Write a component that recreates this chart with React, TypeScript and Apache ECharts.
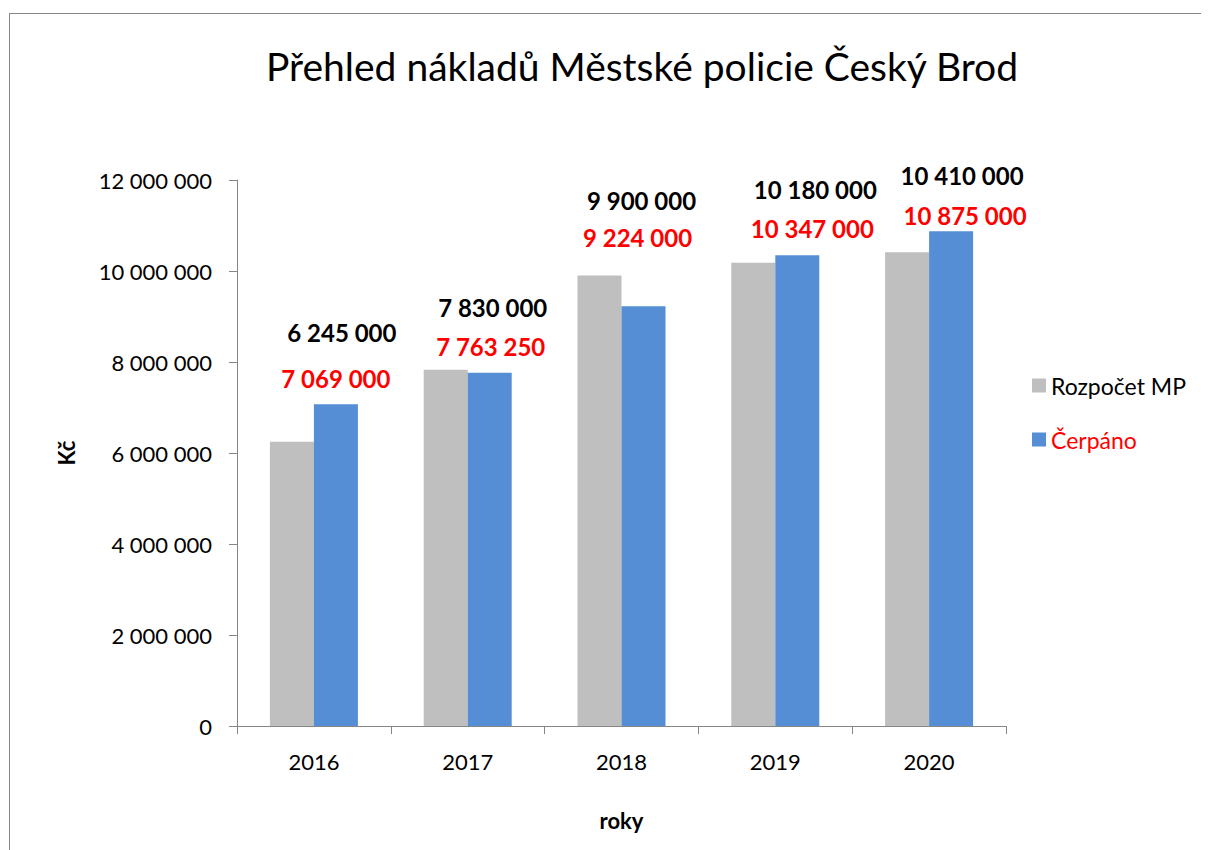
import React, { useEffect, useRef } from "react";
import * as echarts from "echarts";

const years = ["2016", "2017", "2018", "2019", "2020"];
const rozpocet = [6245000, 7830000, 9900000, 10180000, 10410000];
const cerpano = [7069000, 7763250, 9224000, 10347000, 10875000];
const yTicks = { min: 0, max: 12000000, interval: 2000000 };

// label placement tweaks (pixels), mirroring manually moved labels in the source
const rozpocetLabelOffsets = [[50, -96], [47, -49], [42, -62], [62, -60], [55, -64]];
const cerpanoLabelOffsets = [[0, -13], [1, -13], [-6, -56], [15, -14], [14, -3]];

const FONT = "Lato, 'Noto Sans', sans-serif";
const fmt = (v: number) => String(v).replace(/\B(?=(\d{3})+(?!\d))/g, " ");

export default function App() {
  const ref = useRef<HTMLDivElement>(null);
  useEffect(() => {
    if (!ref.current) return;
    document.body.style.overflow = "hidden";
    const chart = echarts.init(ref.current, undefined, { renderer: "svg" });
    chart.setOption({
      animation: false,
      textStyle: { fontFamily: FONT },
      graphic: [
        {
          type: "line",
          shape: { x1: 1.5, y1: 5, x2: 1.5, y2: 842 },
          style: { stroke: "#868686", lineWidth: 1 },
          silent: true,
        },
        {
          type: "line",
          shape: { x1: 1, y1: 5.5, x2: 1201, y2: 5.5 },
          style: { stroke: "#868686", lineWidth: 1 },
          silent: true,
        },
      ],
      title: {
        text: "Přehled nákladů Městské policie Český Brod",
        left: 253,
        top: 33,
        textStyle: { fontFamily: FONT, fontSize: 39, fontWeight: "normal", color: "#000" },
      },
      legend: {
        orient: "vertical",
        left: 1019,
        top: 361,
        itemWidth: 14,
        itemHeight: 14,
        itemGap: 31,
        icon: "rect",
        data: [
          { name: "Rozpočet MP", textStyle: { color: "#000" } },
          { name: "Čerpáno", textStyle: { color: "#ff0000" } },
        ],
        textStyle: { fontFamily: FONT, fontSize: 23 },
      },
      grid: { left: 229, top: 172, right: 203, bottom: 124, containLabel: false },
      xAxis: {
        type: "category",
        data: years,
        name: "roky",
        nameLocation: "middle",
        nameGap: 83,
        nameTextStyle: { fontFamily: FONT, fontSize: 22, fontWeight: "bold", color: "#000" },
        axisLine: { lineStyle: { color: "#868686", width: 1 } },
        axisTick: { show: true, length: 8, lineStyle: { color: "#868686" } },
        axisLabel: { color: "#000", fontSize: 22, fontFamily: FONT, margin: 24 },
      },
      yAxis: {
        type: "value",
        min: yTicks.min,
        max: yTicks.max,
        interval: yTicks.interval,
        name: "Kč",
        nameLocation: "middle",
        nameRotate: 90,
        nameGap: 160,
        nameTextStyle: { fontFamily: FONT, fontSize: 22, fontWeight: "bold", color: "#000" },
        axisLine: { show: true, lineStyle: { color: "#868686", width: 1 } },
        axisTick: { show: true, length: 8, lineStyle: { color: "#868686" } },
        splitLine: { show: false },
        axisLabel: { color: "#000", fontSize: 22, fontFamily: FONT, margin: 25, formatter: (v: number) => fmt(v) },
      },
      series: [
        {
          name: "Rozpočet MP",
          type: "bar",
          barWidth: 44,
          barGap: "0%",
          itemStyle: { color: "#BFBFBF" },
          data: rozpocet.map((v, i) => ({
            value: v,
            label: { offset: rozpocetLabelOffsets[i] },
          })),
          label: {
            show: true,
            position: "top",
            distance: 0,
            color: "#000",
            fontWeight: "bold",
            fontSize: 24,
            lineHeight: 26,
            fontFamily: FONT,
            formatter: (p: any) => fmt(p.value),
          },
        },
        {
          name: "Čerpáno",
          type: "bar",
          barWidth: 44,
          barGap: "0%",
          itemStyle: { color: "#558ED5" },
          data: cerpano.map((v, i) => ({
            value: v,
            label: { offset: cerpanoLabelOffsets[i] },
          })),
          label: {
            show: true,
            position: "top",
            distance: 0,
            color: "#ff0000",
            fontWeight: "bold",
            fontSize: 24,
            lineHeight: 26,
            fontFamily: FONT,
            formatter: (p: any) => fmt(p.value),
          },
        },
      ],
    });
    return () => chart.dispose();
  }, []);
  return <div ref={ref} style={{ width: 1201, height: 842 }} />;
}
